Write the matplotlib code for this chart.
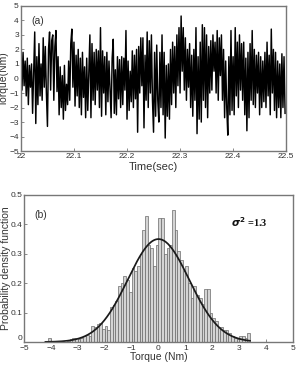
import numpy as np
import matplotlib
matplotlib.use("Agg")
import matplotlib.pyplot as plt

plt.rcParams['font.family'] = ['Liberation Sans', 'DejaVu Sans']

# ---- (a) torque time series (sampled every 2 ms, 22.0 .. 22.5 s) ----
t_start = 22.0
dt = 0.002
torque = [
    3.0, -0.8, 1.8, -0.5, 1.2, -1.2, 1.4, -1.8, 0.9, -0.6,
    1.0, -2.4, 0.5, 3.2, -3.1, 1.5, -1.8, 2.4, -1.2, 1.0,
    -1.5, 2.8, -0.6, 2.2, -1.0, -3.3, 2.0, 3.2, -0.8, 2.6,
    3.0, -1.5, 2.2, 3.3, -0.9, 1.5, -2.5, 0.8, -2.0, 0.2,
    -2.8, 0.9, -2.2, -0.4, -1.8, 1.2, -1.5, 2.4, 3.4, -0.6,
    2.5, -1.9, 1.6, -1.2, 2.0, -2.0, 1.4, -2.5, 1.8, -1.3,
    0.8, -2.7, 1.4, -2.2, 0.5, 3.0, -2.7, 2.4, -1.5, 1.8,
    -1.8, 2.0, -0.8, 1.9, -2.0, 3.5, -2.6, 1.9, -1.0, 1.5,
    -2.5, 1.8, -1.6, 1.2, -0.8, -2.7, 1.4, 2.7, -2.4, 0.6,
    -2.5, 1.5, -1.4, 1.3, -2.0, 1.5, -1.8, 1.4, -0.8, 3.3,
    -2.8, 1.2, -2.2, 0.5, -1.6, 1.9, -2.0, 1.6, -1.4, 2.0,
    -3.7, 2.2, -1.0, 2.8, -0.5, 2.8, -3.4, 1.6, -1.5, 3.2,
    -2.0, 2.6, -1.0, 3.0, -1.5, -3.7, 1.8, -2.6, 2.3, -1.5,
    -3.0, 1.8, -2.0, 3.0, -2.5, 1.8, -4.1, 0.9, -2.6, 1.0,
    -2.8, 2.0, -1.8, 2.5, -1.0, 2.2, -2.0, 3.0, -0.5, 3.5,
    -1.0, 4.3, 0.5, 3.5, -0.8, 2.8, -1.5, 2.0, -0.6, 2.4,
    -2.0, 1.6, -2.6, 2.0, -1.5, 3.5, -3.8, 1.5, -2.8, 2.5,
    -3.0, 3.7, -1.5, 3.5, -2.0, 3.0, -2.7, 2.2, -1.0, 2.6,
    -0.8, 3.0, 0.5, 2.5, -1.0, 3.3, -1.5, 2.8, 0.2, 3.0,
    -1.5, 2.0, -2.7, 1.2, -2.0, -3.9, 1.5, -2.5, 3.3, -2.2,
    1.5, -2.5, 3.5, -1.2, 2.5, -2.0, 3.0, -0.8, 2.4, -1.5,
    2.5, -2.5, 1.4, -3.6, 1.8, -2.7, 2.4, -1.5, 3.3, -1.8,
    2.0, -2.0, 1.6, -1.0, 1.8, -2.5, 1.5, -2.0, 1.2, -1.6,
    1.8, -2.0, 2.5, -1.2, 1.6, -2.5, 3.4, -1.0, 2.0, -2.2,
    1.8, -2.7, 1.2, -2.0, 1.0, -2.7, 1.7, -2.0, 1.5, -2.4,
]
time = t_start + dt * np.arange(len(torque))

# ---- (b) histogram (bin width 0.1 Nm) ----
bin_left_start = -4.1
bin_width = 0.1
pdf_heights = [
    0.015, 0.0, 0.0, 0.005, 0.0, 0.005, 0.0, 0.005, 0.01, 0.015,   # -4.1 .. -3.2
    0.015, 0.01, 0.015, 0.02, 0.025, 0.02, 0.055, 0.05, 0.06, 0.065,  # -3.1 .. -2.2
    0.045, 0.055, 0.04, 0.12, 0.125, 0.14, 0.19, 0.2, 0.225, 0.21,  # -2.1 .. -1.2
    0.17, 0.25, 0.24, 0.26, 0.3, 0.38, 0.43, 0.33, 0.32, 0.26,      # -1.1 .. -0.2
    0.33, 0.42, 0.42, 0.3, 0.32, 0.33, 0.45, 0.38, 0.31, 0.28,      # -0.1 .. 0.8
    0.24, 0.26, 0.2, 0.15, 0.19, 0.16, 0.15, 0.13, 0.18, 0.18,      # 0.9 .. 1.8
    0.1, 0.08, 0.07, 0.05, 0.05, 0.04, 0.04, 0.03, 0.02, 0.015,     # 1.9 .. 2.8
    0.01, 0.02, 0.02, 0.015, 0.03,                                   # 2.9 .. 3.3
]
bin_lefts = bin_left_start + bin_width * np.arange(len(pdf_heights))

sigma2 = 1.3
mu = 0.0

fig = plt.figure(figsize=(2.99, 3.65), dpi=100)
tick_col = '#333333'
spine_col = '#777777'

# ---------- top panel ----------
ax1 = fig.add_axes([0.070, 0.586, 0.887, 0.398])
ax1.plot(time, torque, color='black', lw=1.05)
ax1.set_xlim(22, 22.5)
ax1.set_ylim(-5, 5)
ax1.set_xticks([22, 22.1, 22.2, 22.3, 22.4, 22.5])
ax1.set_xticklabels(['22', '22.1', '22.2', '22.3', '22.4', '22.5'])
ax1.set_yticks(range(-5, 6))
ax1.set_xlabel('Time(sec)', fontsize=8, color=tick_col, labelpad=1)
ax1.set_ylabel('Torque(Nm)', fontsize=7.5, color=tick_col, labelpad=0)
ax1.text(0.04, 0.93, '(a)', transform=ax1.transAxes, fontsize=7.5,
         color=tick_col, va='top')

# ---------- bottom panel ----------
ax2 = fig.add_axes([0.080, 0.063, 0.900, 0.403])
ax2.bar(bin_lefts, pdf_heights, width=bin_width, align='edge',
        color='#d4d4d4', edgecolor='#6a6a6a', linewidth=0.5)
xg = np.linspace(-4.2, 3.4, 300)
gauss = np.exp(-(xg - mu) ** 2 / (2 * sigma2)) / np.sqrt(2 * np.pi * sigma2)
ax2.plot(xg, gauss, color='#1a1a1a', lw=1.25)
ax2.set_xlim(-5, 5)
ax2.set_ylim(0, 0.5)
ax2.set_xticks(range(-5, 6))
ax2.set_yticks([0, 0.1, 0.2, 0.3, 0.4, 0.5])
ax2.set_yticklabels(['0', '0.1', '0.2', '0.3', '0.4', '0.5'])
ax2.set_xlabel('Torque (Nm)', fontsize=7.5, color=tick_col, labelpad=0)
ax2.set_ylabel('Probability density function', fontsize=7.5, color=tick_col,
               labelpad=0)
ax2.text(0.04, 0.90, '(b)', transform=ax2.transAxes, fontsize=7.5,
         color=tick_col, va='top')
ax2.text(0.77, 0.785, r'$\boldsymbol{\sigma}^{\mathbf{2}}$ =1.3', transform=ax2.transAxes,
         fontsize=7.5, family='Liberation Serif', weight='bold', color='#111111')

for ax in (ax1, ax2):
    for s in ax.spines.values():
        s.set_color(spine_col)
        s.set_linewidth(1.0)
    ax.tick_params(direction='in', length=2, width=0.6, colors=spine_col,
                   labelsize=6, labelcolor=tick_col, pad=1.5)
ax2.tick_params(axis='y', pad=1.0)
ax2.tick_params(axis='x', pad=2.0)
# lift the "0" label at the corner so it sits just above the "-5"
ax2.get_yticklabels()[0].set_verticalalignment('bottom')

fig.savefig('out.png', dpi=100)
